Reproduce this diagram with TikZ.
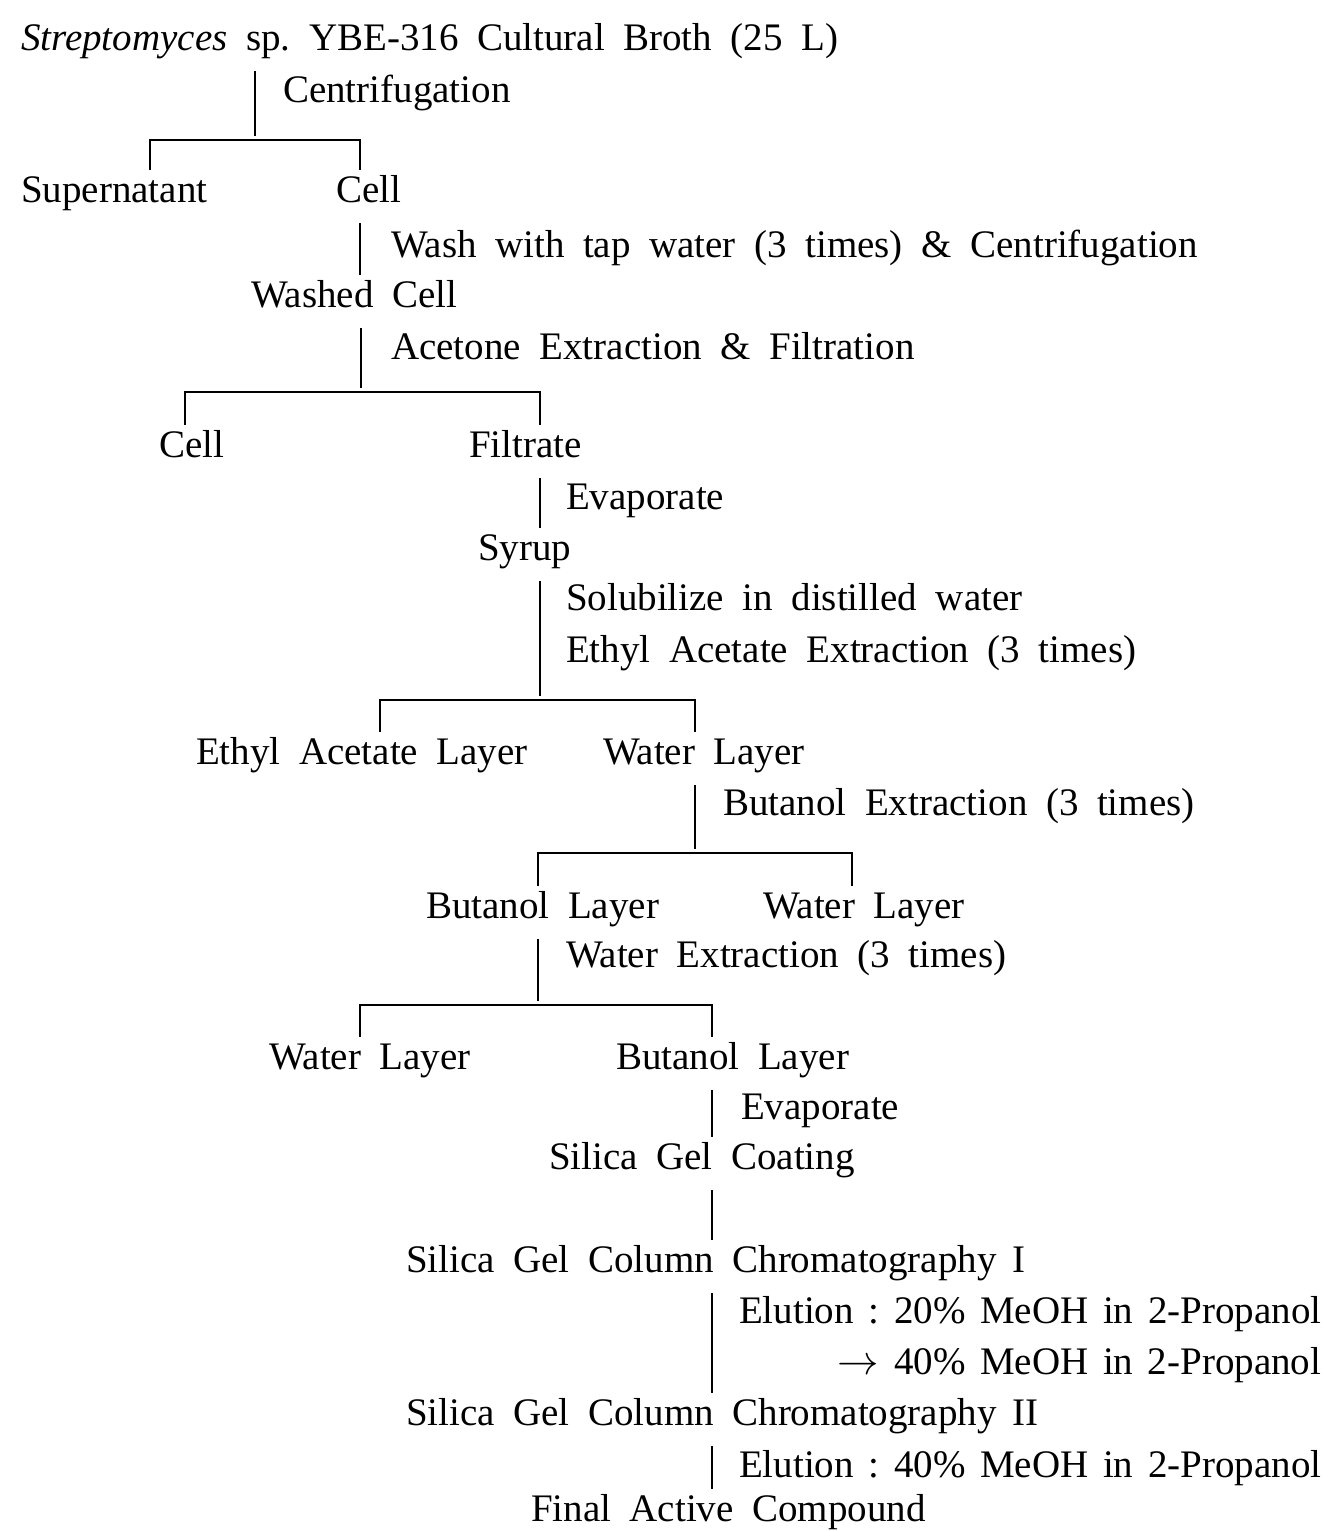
\documentclass[tikz,border=0pt]{standalone}
\usepackage{fontspec}
\setmainfont{Liberation Serif}[WordSpace=1.9]
\newfontfamily\elufont{Liberation Serif}[WordSpace=1.5]
\usepackage{tikz}

\tikzset{
  lbl/.style={anchor=base west, inner sep=0pt, text height=13.5pt, text depth=5pt},
  rlbl/.style={lbl, anchor=base east},
  link/.style={shorten <=5pt, shorten >=2pt},
  fork/.style={shorten <=2pt, shorten >=2pt},
}

\begin{document}
\frenchspacing
\begin{tikzpicture}[x=0.5pt, y=-0.5pt, line width=1.1pt,
  every node/.style={font=\fontsize{19.5}{23}\selectfont}]
\useasboundingbox (0,0) rectangle (1328,1531);
% products
\node[lbl](broth) at (20,50) {\textit{Streptomyces} sp. YBE-316 Cultural Broth (25 L)};
\node[lbl](sup) at (20,202) {Supernatant};
\node[lbl](cell1) at (335,202) {Cell};
\node[lbl](washed) at (250,307) {Washed Cell};
\node[lbl](cell2) at (158,457) {Cell};
\node[lbl](filtrate) at (468,457) {Filtrate};
\node[lbl](syrup) at (477,560) {Syrup};
\node[lbl](eal) at (195,764) {Ethyl Acetate Layer};
\node[lbl](wl1) at (602,764) {Water Layer};
\node[lbl](bl1) at (425,918) {Butanol Layer};
\node[lbl](wl2) at (762,918) {Water Layer};
\node[lbl](wl3) at (268,1069) {Water Layer};
\node[lbl](bl2) at (615,1069) {Butanol Layer};
\node[lbl](coating) at (548,1169) {Silica Gel Coating};
\node[lbl](col1) at (405,1272) {Silica Gel Column Chromatography\hspace{8pt}I};
\node[lbl](col2) at (405,1425) {Silica Gel Column Chromatography\hspace{8pt}II};
\node[lbl](final) at (530,1521) {Final Active Compound};
% steps
\node[lbl](centri) at (282,102) {Centrifugation};
\node[lbl](wash) at (390,257) {Wash with tap water (3 times) \& Centrifugation};
\node[lbl](acetone) at (390,359) {Acetone Extraction \& Filtration};
\node[lbl](evap1) at (565,509) {Evaporate};
\node[lbl](solub) at (565,610) {Solubilize in distilled water};
\node[lbl](ethext) at (565,662) {Ethyl Acetate Extraction (3 times)};
\node[lbl](butext) at (722,815) {Butanol Extraction (3 times)};
\node[lbl](watext) at (565,967) {Water Extraction (3 times)};
\node[lbl](evap2) at (740,1119) {Evaporate};
\node[lbl](elu1) at (738,1323) {\elufont Elution : 20\% MeOH in 2-Propanol};
\node[rlbl](elu1b) at (elu1.base east |- 0,1374) {\elufont $\rightarrow$ 40\% MeOH in 2-Propanol};
\node[lbl](elu2) at (738,1477) {\elufont Elution : 40\% MeOH in 2-Propanol};
%
\draw[link] (broth.south -| 255,0) -- (255,140) coordinate (fork1);
\draw[fork] (sup.north -| 150,0) |- (fork1) -| (cell1.north -| 360,0);
\draw[link] (cell1.south -| 360,0) -- (washed.north -| 360,0);
\draw[link] (washed.south -| 361,0) -- (361,392) coordinate (fork2);
\draw[fork] (cell2.north -| 185,0) |- (fork2) -| (filtrate.north -| 540,0);
\draw[link] (filtrate.south -| 540,0) -- (syrup.north -| 540,0);
\draw[link] (syrup.south -| 540,0) -- (540,700) coordinate (fork3);
\draw[fork] (eal.north -| 380,0) |- (fork3) -| (wl1.north -| 695,0);
\draw[link] (wl1.south -| 695,0) -- (695,853) coordinate (fork4);
\draw[fork] (bl1.north -| 538,0) |- (fork4) -| (wl2.north -| 852,0);
\draw[link] (bl1.south -| 538,0) -- (538,1005) coordinate (fork5);
\draw[fork] (wl3.north -| 360,0) |- (fork5) -| (bl2.north -| 712,0);
\draw[link] (bl2.south -| 712,0) -- (coating.north -| 712,0);
\draw[link] (coating.south -| 712,0) -- (col1.north -| 712,0);
\draw[link] (col1.south -| 712,0) -- (col2.north -| 712,0);
\draw[link] (col2.south -| 712,0) -- (final.north -| 712,0);
\end{tikzpicture}
\end{document}
